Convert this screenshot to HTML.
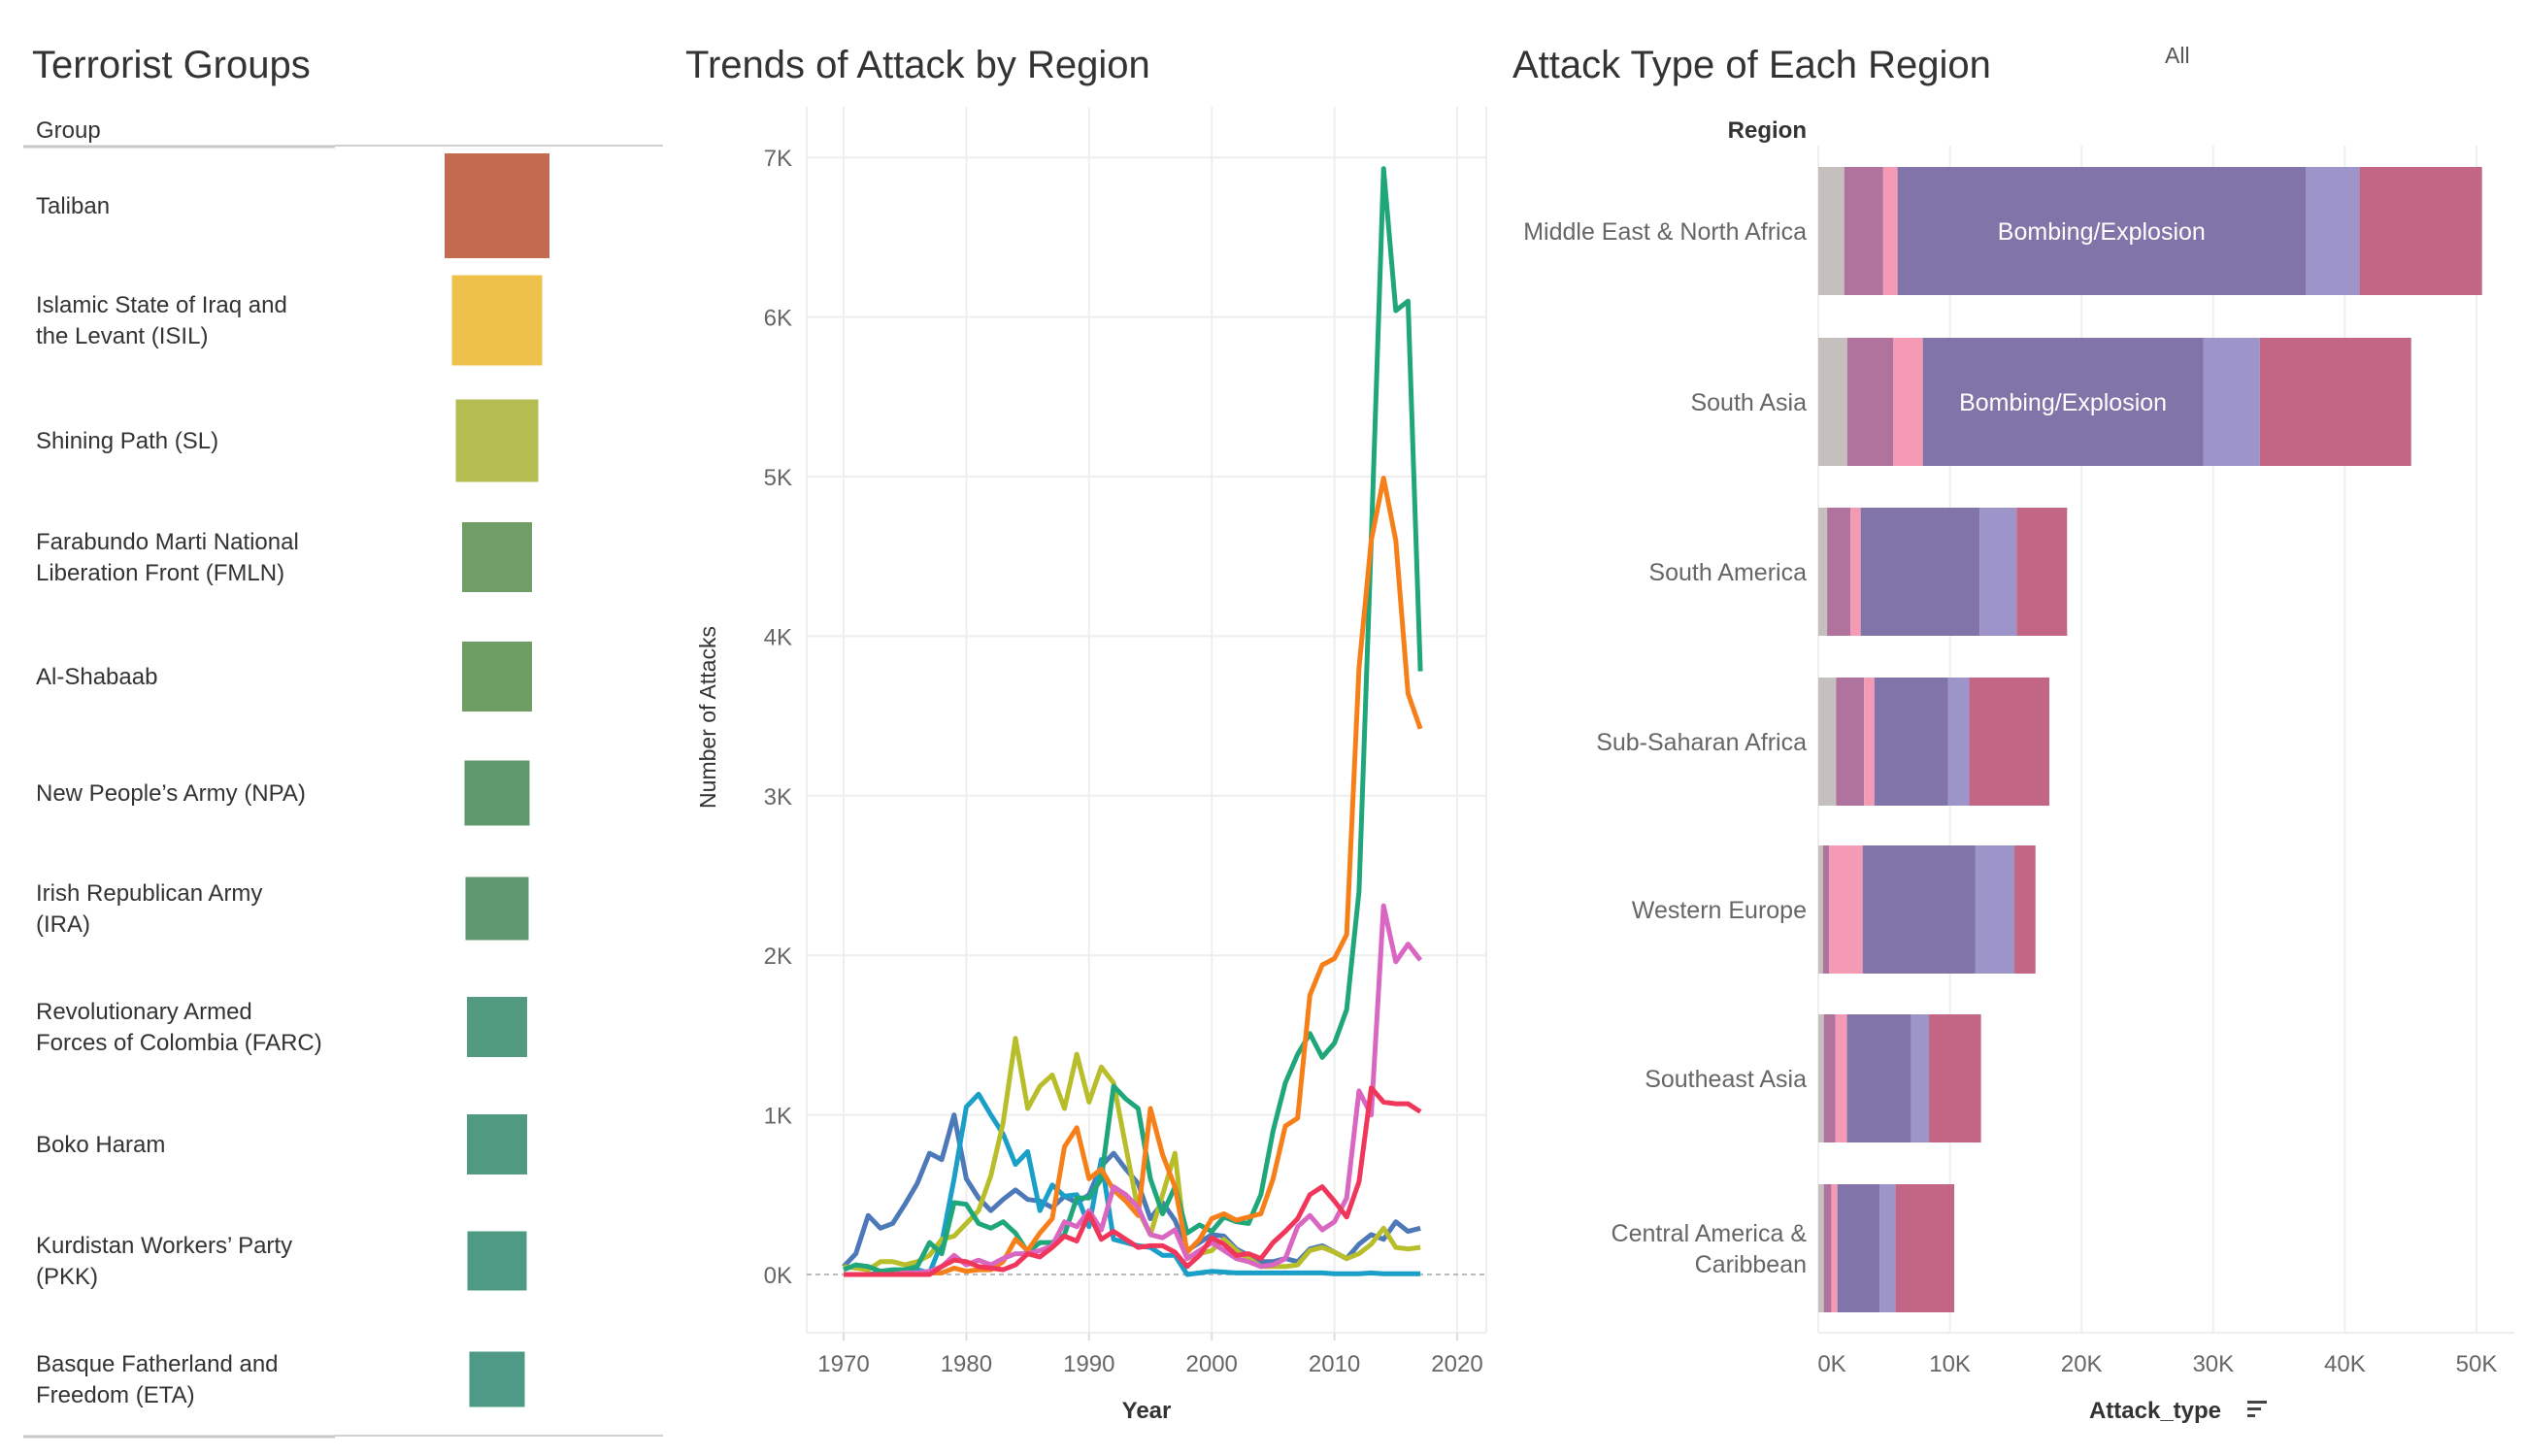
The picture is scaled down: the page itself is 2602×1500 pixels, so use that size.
<!DOCTYPE html>
<html><head><meta charset="utf-8">
<style>
html,body{margin:0;padding:0;background:#fff;}
svg{display:block;font-family:"Liberation Sans",sans-serif;}
</style></head>
<body>
<svg id="root" width="2602" height="1500" viewBox="0 0 2602 1500" xmlns="http://www.w3.org/2000/svg">
  <g id="left-panel">
    <text x="33" y="80" font-size="40" fill="#333">Terrorist Groups</text>
    <text x="37" y="142" font-size="24" fill="#333">Group</text>
    <line x1="24" y1="151" x2="345" y2="151" stroke="#c8c8c8" stroke-width="3"/>
    <line x1="345" y1="150" x2="683" y2="150" stroke="#d0d0d0" stroke-width="2"/>
    <line x1="24" y1="1480" x2="345" y2="1480" stroke="#c8c8c8" stroke-width="3"/>
    <line x1="345" y1="1479" x2="683" y2="1479" stroke="#d0d0d0" stroke-width="2"/>
  </g>
  <g id="line-panel">
    <text x="706" y="80" font-size="40" fill="#333">Trends of Attack by Region</text>
  </g>
  <g id="bar-panel">
    <text x="1558" y="80" font-size="40" fill="#333">Attack Type of Each Region</text>
    <text x="2230" y="65" font-size="23" fill="#555">All</text>
    <text x="1861" y="142" font-size="24" fill="#333" text-anchor="end" font-weight="bold">Region</text>
  </g>
</svg>
<script>
// ---------- Groups ----------
const groupNames = [["Taliban"],["Islamic State of Iraq and","the Levant (ISIL)"],["Shining Path (SL)"],["Farabundo Marti National","Liberation Front (FMLN)"],["Al-Shabaab"],["New People\u2019s Army (NPA)"],["Irish Republican Army","(IRA)"],["Revolutionary Armed","Forces of Colombia (FARC)"],["Boko Haram"],["Kurdistan Workers\u2019 Party","(PKK)"],["Basque Fatherland and","Freedom (ETA)"]];
const groupSize = [108,93,85,72,72,67,65,62,62,61,57];
const groupColors = ["#c26b4e","#eec14b","#b5bc52","#709e66","#6f9e64","#60996e","#5f996f","#529a80","#519a82","#4f9a83","#4e9a86"];

// ---------- Trends ----------
const years = [];
for (let y = 1970; y <= 2017; y++) years.push(y);
const regionNamesLine = ["Western Europe","Central America & Caribbean","South America","Middle East & North Africa","South Asia","Sub-Saharan Africa","Southeast Asia"];
const lineColors = ["#4e79b8","#1a9fc8","#b8bd2a","#1fa67a","#f77f1a","#d966c0","#f0365a"];
const westernEurope = [0.05,0.13,0.37,0.29,0.32,0.44,0.57,0.76,0.72,1.0,0.6,0.48,0.4,0.47,0.53,0.47,0.46,0.42,0.49,0.45,0.5,0.68,0.76,0.66,0.57,0.35,0.45,0.34,0.15,0.2,0.25,0.24,0.16,0.12,0.08,0.08,0.1,0.08,0.16,0.18,0.14,0.1,0.19,0.25,0.22,0.33,0.27,0.29];
const centralAmerica = [0,0,0,0.01,0.01,0.02,0.03,0.01,0.2,0.6,1.05,1.13,1.0,0.88,0.69,0.77,0.4,0.56,0.49,0.5,0.3,0.72,0.22,0.2,0.18,0.17,0.12,0.12,0.0,0.01,0.02,0.015,0.01,0.01,0.01,0.01,0.01,0.01,0.01,0.01,0.005,0.005,0.005,0.01,0.005,0.005,0.005,0.005];
const southAmerica = [0.05,0.04,0.03,0.08,0.08,0.06,0.08,0.12,0.22,0.24,0.32,0.4,0.62,0.95,1.48,1.04,1.18,1.25,1.04,1.38,1.08,1.3,1.2,0.8,0.4,0.25,0.5,0.76,0.1,0.13,0.15,0.22,0.15,0.1,0.05,0.05,0.05,0.06,0.15,0.17,0.14,0.1,0.13,0.19,0.29,0.17,0.16,0.17];
const middleEast = [0.03,0.06,0.05,0.02,0.03,0.03,0.05,0.2,0.13,0.45,0.44,0.32,0.29,0.33,0.26,0.14,0.2,0.2,0.25,0.48,0.48,0.6,1.18,1.1,1.04,0.6,0.38,0.55,0.26,0.31,0.27,0.36,0.33,0.32,0.5,0.9,1.2,1.38,1.51,1.36,1.45,1.66,2.4,4.6,6.93,6.04,6.1,3.78];
const southAsia = [0,0,0,0,0,0.01,0.01,0.01,0.01,0.04,0.02,0.03,0.03,0.08,0.22,0.15,0.26,0.35,0.8,0.92,0.6,0.66,0.53,0.46,0.37,1.04,0.75,0.55,0.14,0.22,0.35,0.38,0.34,0.36,0.38,0.6,0.93,0.98,1.75,1.94,1.98,2.13,3.8,4.6,4.99,4.6,3.64,3.42];
const subSaharan = [0,0,0,0,0,0.01,0.01,0.02,0.05,0.12,0.06,0.09,0.06,0.1,0.13,0.13,0.15,0.18,0.33,0.3,0.4,0.28,0.55,0.5,0.42,0.25,0.23,0.28,0.1,0.15,0.2,0.15,0.1,0.08,0.05,0.06,0.1,0.3,0.37,0.28,0.33,0.48,1.15,1.0,2.31,1.96,2.07,1.97];
const southeastAsia = [0,0,0,0,0,0,0,0,0.05,0.09,0.08,0.05,0.04,0.03,0.06,0.13,0.11,0.17,0.24,0.21,0.38,0.22,0.27,0.22,0.17,0.18,0.18,0.14,0.05,0.12,0.23,0.19,0.12,0.13,0.1,0.2,0.27,0.35,0.5,0.55,0.46,0.36,0.58,1.17,1.08,1.07,1.07,1.02];
const lineSeries = [westernEurope,centralAmerica,southAmerica,middleEast,southAsia,subSaharan,southeastAsia];
const yTicks = [0,1,2,3,4,5,6,7];
const yTickLabels = ["0K","1K","2K","3K","4K","5K","6K","7K"];
const xTicks = [1970,1980,1990,2000,2010,2020];

// ---------- Bars ----------
const barRegions = [["Middle East & North Africa"],["South Asia"],["South America"],["Sub-Saharan Africa"],["Western Europe"],["Southeast Asia"],["Central America &","Caribbean"]];
const attackTypes = ["Unknown","Armed Assault-like","Hostage","Bombing/Explosion","Facility Attack","Other"];
const attackColors = ["#c5bfbd","#b0739e","#f49ab5","#8174a8","#9d95c9","#c36584"];
// segment values in K (in order of attackTypes)
const segUnknown  = [1.97,2.2,0.67,1.35,0.36,0.42,0.42];
const segArmed    = [2.96,3.5,1.77,2.13,0.47,0.88,0.57];
const segHostage  = [1.09,2.24,0.78,0.78,2.54,0.88,0.46];
const segBombing  = [31.0,21.3,9.03,5.61,8.57,4.88,3.22];
const segFacility = [4.1,4.3,2.81,1.6,2.96,1.35,1.2];
const segOther    = [9.3,11.5,3.84,6.08,1.6,3.95,4.46];
const barSegments = [segUnknown,segArmed,segHostage,segBombing,segFacility,segOther];
const barTicks = [0,10,20,30,40,50];
const barTickLabels = ["0K","10K","20K","30K","40K","50K"];

const NS = "http://www.w3.org/2000/svg";
function mk(tag, attrs, parent){const e=document.createElementNS(NS,tag);for(const k in attrs)e.setAttribute(k,attrs[k]);parent.appendChild(e);return e;}

// groups
const lp = document.getElementById('left-panel');
const rowY = [212,330,454,574,697,817,936,1058,1179,1299,1421];
groupNames.forEach((lines,i)=>{
  const t = mk('text',{x:37,'font-size':24,fill:'#333'},lp);
  
  
  lines.forEach((ln,j)=>{
    const ts = mk('tspan',{x:37,y:rowY[i]+8+(j-(lines.length-1)/2)*32},t);
    ts.textContent = ln;
  });
  const s = groupSize[i];
  const r = mk('rect',{x:512-s/2,y:rowY[i]-s/2,width:s,height:s,fill:groupColors[i]},lp);
  
  
});

// line chart
const lc = document.getElementById('line-panel');
const X0=869, XS=12.64, Y0=1313, YS=164.4;
const xs = y => X0+(y-1970)*XS;
const ys = v => Y0-v*YS;
mk('line',{x1:831,y1:110,x2:831,y2:1373,stroke:'#eeeeee','stroke-width':2},lc);
mk('line',{x1:1531,y1:110,x2:1531,y2:1373,stroke:'#eeeeee','stroke-width':2},lc);
mk('line',{x1:831,y1:1373,x2:1531,y2:1373,stroke:'#eeeeee','stroke-width':2},lc);
xTicks.forEach(t=>{
  const g = mk('line',{x1:xs(t),y1:110,x2:xs(t),y2:1373,stroke:'#eeeeee','stroke-width':2},lc);
  
  
  mk('line',{x1:xs(t),y1:1373,x2:xs(t),y2:1381,stroke:'#ddd','stroke-width':2},lc);
  const l = mk('text',{x:xs(t),y:1413,'font-size':24,fill:'#666','text-anchor':'middle'},lc);
  
  
  l.textContent = t;
});
yTicks.forEach((t,i)=>{
  const g = mk('line',{x1:831,y1:ys(t),x2:1531,y2:ys(t),stroke:t===0?'#bbbbbb':'#eeeeee','stroke-width':2,'stroke-dasharray':t===0?'5,4':'none'},lc);
  
  
  const l = mk('text',{x:816,y:ys(t)+9,'font-size':24,fill:'#666','text-anchor':'end'},lc);
  
  
  l.textContent = yTickLabels[i];
});
const yt = mk('text',{x:0,y:0,'font-size':23,fill:'#333','text-anchor':'middle',transform:'translate(737,739) rotate(-90)'},lc);


yt.textContent = 'Number of Attacks';
const xt = mk('text',{x:1181,y:1461,'font-size':24,fill:'#333','text-anchor':'middle','font-weight':'bold'},lc);


xt.textContent = 'Year';
lineSeries.forEach((ser,i)=>{
  const d = ser.map((v,j)=>(j?'L':'M')+xs(years[j]).toFixed(1)+','+ys(v).toFixed(1)).join(' ');
  const p = mk('path',{d:d,fill:'none',stroke:lineColors[i],'stroke-width':5,'stroke-linejoin':'round'},lc);
  
  
});

// bar chart
const bc = document.getElementById('bar-panel');
const BX0=1873, BXS=13.56;
const bx = v => BX0+v*BXS;
const barY = [238,414,589,764,937,1111,1286];
const BH = 132;
barTicks.forEach((t,i)=>{
  const g = mk('line',{x1:bx(t),y1:150,x2:bx(t),y2:1373,stroke:'#eeeeee','stroke-width':2},bc);
  
  
  const l = mk('text',{x:bx(t)+(t===0?14:0),y:1413,'font-size':24,fill:'#666','text-anchor':'middle'},bc);
  
  
  l.textContent = barTickLabels[i];
});
mk('line',{x1:1873,y1:1373,x2:2590,y2:1373,stroke:'#eeeeee','stroke-width':2},bc);
barRegions.forEach((lines,r)=>{
  const t = mk('text',{'font-size':25,fill:'#666','text-anchor':'end'},bc);
  
  
  lines.forEach((ln,j)=>{
    const ts = mk('tspan',{x:1861,y:barY[r]+9+(j-(lines.length-1)/2)*32},t);
    ts.textContent = ln;
  });
  let acc = 0;
  barSegments.forEach((seg,k)=>{
    const v = seg[r];
    const rc = mk('rect',{x:bx(acc),y:barY[r]-BH/2,width:v*BXS,height:BH,fill:attackColors[k]},bc);
    
    
    if (k===3 && v>15){
      const lb = mk('text',{x:bx(acc+v/2),y:barY[r]+9,'font-size':25,fill:'#fff','text-anchor':'middle'},bc);
      
      
      lb.textContent = attackTypes[k];
    }
    acc += v;
  });
});
const bt = mk('text',{x:2220,y:1461,'font-size':24,fill:'#333','text-anchor':'middle','font-weight':'bold'},bc);


bt.textContent = 'Attack_type';
const si = mk('g',{},bc);


mk('rect',{x:2315,y:1443,width:20,height:3,fill:'#444'},si);
mk('rect',{x:2315,y:1450,width:14,height:3,fill:'#444'},si);
mk('rect',{x:2315,y:1457,width:8,height:3,fill:'#444'},si);
</script>
</body></html>
